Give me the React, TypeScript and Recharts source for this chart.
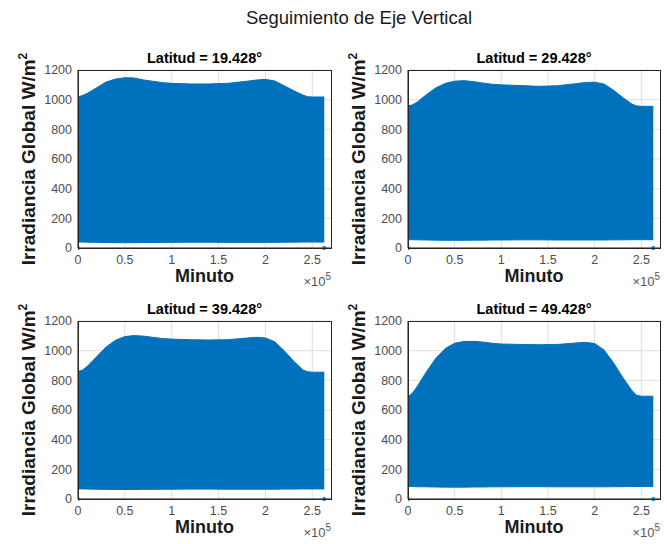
import React from 'react';
import { ComposedChart, Area, Scatter, XAxis, YAxis, CartesianGrid } from 'recharts';

// minutes along the year (x axis shown as x10^5)
const minutes = [0, 5000, 10000, 20000, 30000, 40000, 50000, 60000, 70000, 80000, 90000, 100000, 120000, 140000, 160000, 180000, 190000, 200000, 210000, 220000, 230000, 240000, 245000, 250000, 262800];

const latitudes = ['19.428', '29.428', '39.428', '49.428'];

// upper envelope of irradiance (W/m2)
const upper19 = [1020, 1028, 1043, 1081, 1119, 1139, 1148, 1146, 1133, 1124, 1115, 1110, 1106, 1106, 1110, 1124, 1132, 1137, 1126, 1094, 1061, 1031, 1020, 1018, 1018];
const upper29 = [958, 965, 985, 1035, 1080, 1110, 1125, 1128, 1122, 1112, 1104, 1100, 1095, 1090, 1094, 1108, 1116, 1118, 1105, 1065, 1015, 970, 958, 955, 955];
const upper39 = [860, 870, 895, 960, 1025, 1070, 1095, 1102, 1098, 1090, 1082, 1078, 1074, 1072, 1074, 1085, 1090, 1086, 1060, 1000, 930, 870, 858, 855, 855];
const upper49 = [690, 715, 760, 860, 950, 1015, 1050, 1062, 1063, 1058, 1050, 1045, 1042, 1040, 1042, 1052, 1056, 1048, 1005, 920, 820, 730, 700, 693, 693];

// lower envelope
const lower19 = [40, 40, 39, 38, 37, 36, 36, 36, 37, 37, 38, 38, 39, 39, 38, 38, 38, 38, 38, 39, 39, 40, 40, 40, 40];
const lower29 = [56, 56, 55, 54, 53, 52, 52, 52, 53, 53, 54, 54, 55, 55, 54, 54, 54, 54, 54, 55, 55, 56, 56, 56, 56];
const lower39 = [68, 68, 67, 66, 65, 64, 64, 64, 65, 65, 66, 66, 67, 67, 66, 66, 66, 66, 66, 67, 67, 68, 68, 68, 68];
const lower49 = [84, 84, 83, 82, 81, 80, 80, 80, 81, 81, 82, 82, 83, 83, 82, 82, 82, 82, 82, 83, 83, 84, 84, 84, 84];

// the two single markers at zero
const markerX = [0, 262800];
const markerY = [0, 0];

const xTicks = [0, 50000, 100000, 150000, 200000, 250000];
const yTicks = [0, 200, 400, 600, 800, 1000, 1200];

const BLUE = '#0072BD';
const AX = '#262626';
const FONT = '"Liberation Sans", Arial, Helvetica, sans-serif';

interface PanelProps {
  left: number;
  top: number;
  w: number;
  h: number;
  lat: string;
  upper: number[];
  lower: number[];
}

const fmtX = (v: number) => String(v / 100000);

const Panel = ({ left, top, w, h, lat, upper, lower }: PanelProps) => {
  const data = minutes.map((m, i) => ({ m, band: [lower[i], upper[i]] }));
  const marks = markerX.map((m, i) => ({ m, y: markerY[i] }));
  const cx = left + w / 2;
  const bottom = top + h;
  return (
    <>
      <div style={{ position: 'absolute', left: left - 50, top: top - 10 }}>
        <ComposedChart width={w + 60} height={h + 40} data={data}
          margin={{ top: 10, right: 10, left: 0, bottom: 0 }}>
          <CartesianGrid stroke="#dedede" horizontalValues={yTicks} verticalValues={xTicks} />
          <XAxis dataKey="m" type="number" domain={[0, 270000]} ticks={xTicks} tickFormatter={fmtX}
            height={30} stroke={AX} tickLine={false} tickSize={4} tickMargin={3}
            tick={{ fill: '#4d4d4d', fontSize: 12.5, fontFamily: FONT }} allowDataOverflow />
          <YAxis type="number" domain={[0, 1200]} ticks={yTicks} width={50} stroke={AX}
            tickLine={false} tickSize={4} tickMargin={2} interval={0}
            tick={{ fill: '#4d4d4d', fontSize: 12.5, fontFamily: FONT }} />
          <Area dataKey="band" type="linear" stroke={BLUE} strokeWidth={1} fill={BLUE} fillOpacity={1}
            isAnimationActive={false} dot={false} activeDot={false} />
          <Scatter data={marks} dataKey="y" fill={BLUE} isAnimationActive={false}
            shape={(p: any) => <circle cx={p.cx} cy={p.cy} r={2} fill={BLUE} />} />
        </ComposedChart>
      </div>
      {/* axes box (MATLAB "box on") */}
      <div style={{ position: 'absolute', left: left - 0.5, top: top - 0.5, width: w + 1, height: h + 1,
        boxSizing: 'border-box', border: `1px solid ${AX}`, pointerEvents: 'none' }} />
      <div style={{ position: 'absolute', left: cx, top: top - 12, transform: 'translate(-50%, -50%)',
        fontSize: 14.5, fontWeight: 'bold', whiteSpace: 'nowrap', color: '#000' }}>
        Latitud = {lat}°
      </div>
      <div style={{ position: 'absolute', left: cx, top: bottom + 28, transform: 'translate(-50%, -50%)',
        fontSize: 18, fontWeight: 'bold', whiteSpace: 'nowrap', color: '#1a1a1a' }}>
        Minuto
      </div>
      <div style={{ position: 'absolute', left: left + w, top: bottom + 32, transform: 'translate(-100%, -50%)',
        fontSize: 13, whiteSpace: 'nowrap', color: '#555' }}>
        ×10<sup style={{ fontSize: 10 }}>5</sup>
      </div>
      <div style={{ position: 'absolute', left: left - 50, top: top + h / 2,
        transform: 'translate(-50%, -50%) rotate(-90deg)', fontSize: 19, fontWeight: 'bold',
        whiteSpace: 'nowrap', color: '#1a1a1a' }}>
        Irradiancia Global W/m<sup style={{ fontSize: 12 }}>2</sup>
      </div>
    </>
  );
};

export default function App() {
  return (
    <div style={{ position: 'absolute', left: 0, top: 0, width: 667, height: 544, background: '#fff',
      fontFamily: FONT, overflow: 'hidden' }}>
      <div style={{ position: 'absolute', left: 359, top: 18, transform: 'translate(-50%, -50%)',
        fontSize: 18.5, whiteSpace: 'nowrap', color: '#1a1a1a' }}>
        Seguimiento de Eje Vertical
      </div>
      <Panel left={78} top={70} w={253} h={178} lat={latitudes[0]} upper={upper19} lower={lower19} />
      <Panel left={408} top={70} w={252} h={178} lat={latitudes[1]} upper={upper29} lower={lower29} />
      <Panel left={78} top={321} w={253} h={178} lat={latitudes[2]} upper={upper39} lower={lower39} />
      <Panel left={408} top={321} w={252} h={178} lat={latitudes[3]} upper={upper49} lower={lower49} />
    </div>
  );
}
